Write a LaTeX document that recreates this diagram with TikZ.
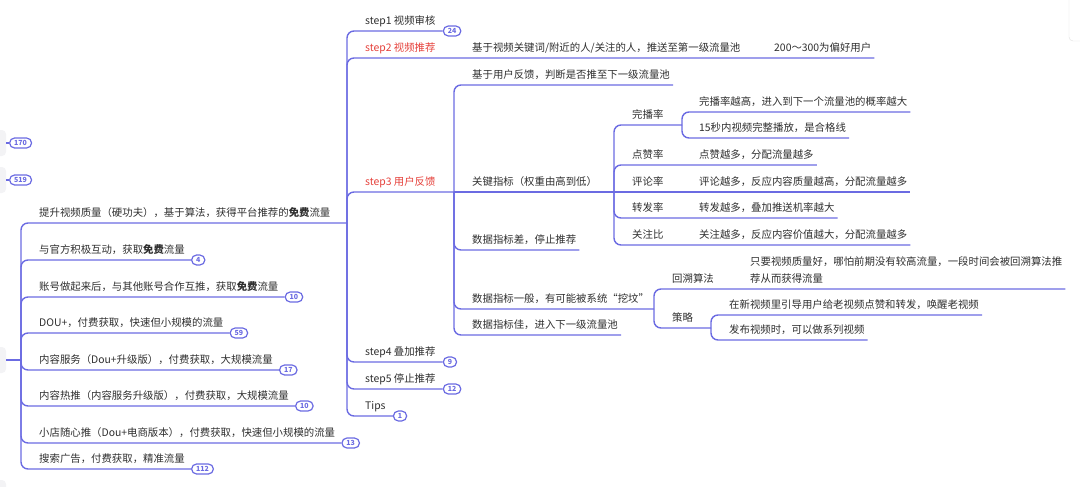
\documentclass[tikz,border=0pt]{standalone}
\usepackage{fontspec}
\setmainfont{Noto Sans CJK SC}
\usetikzlibrary{positioning,calc}
\definecolor{branch}{HTML}{6B6BE2}
\definecolor{redstep}{HTML}{E5403A}
\definecolor{ink}{HTML}{2E2E2E}
\definecolor{ghost}{HTML}{F3F3F5}
\tikzset{
  topic/.style={anchor=south west, inner xsep=0pt, inner ysep=6pt, text depth=0pt,
    text=ink, font=\fontsize{10.4pt}{13pt}\selectfont},
  hot/.style={topic, text=redstep},
  br/.style={draw=branch, line width=1.4pt, rounded corners=7pt},
  badge/.style={anchor=west, draw=branch, line width=1.2pt, fill=white, rounded corners=5pt,
    minimum height=10pt, inner xsep=4.5pt, inner ysep=0pt, text=branch,
    font=\fontsize{7pt}{7pt}\selectfont\bfseries},
  stub/.style={fill=ghost, rounded corners=4pt, minimum width=24pt, minimum height=26pt},
}

\begin{document}
\begin{tikzpicture}[x=1pt, y=-1pt]
  \useasboundingbox (0,0) rectangle (1080,487);
  \clip (0,0) rectangle (1080,487);
  % cut-off neighbours at the edges
  \node[stub] (root) at (-6,360) {};
  \foreach \n/\y/\c in {g1/143/170, g2/180/519, g3/493/{}}{
    \node[stub] (\n) at (-6,\y) {};
    \node[badge, minimum width=22pt] (\n-cnt) at (9,\y) {\c};
    \draw[br] (\n.east) -- (\n-cnt.west);
  }
  \node[draw=black!12, fill=white, rounded corners=4pt, minimum width=30pt, minimum height=60pt] (corner) at (1084,11) {};

  % left trunk
  \coordinate (jl) at (21,360);
  \draw[br] (root.east) -- (jl);
  \node[topic] (l1) at (39,223) {提升视频质量（硬功夫），基于算法，获得平台推荐的\textbf{免费}流量};
  \coordinate (jr) at (347,223);
  \draw[br] (jl) |- (l1.south west) -- (jr);
  \foreach \n/\y/\t/\c in {
    l2/260/与官方积极互动，获取\textbf{免费}流量/4,
    l3/297/账号做起来后，与其他账号合作互推，获取\textbf{免费}流量/10,
    l4/333/DOU+，付费获取，快速但小规模的流量/59,
    l5/370/内容服务（Dou+升级版），付费获取，大规模流量/17,
    l6/406/内容热推（内容服务升级版），付费获取，大规模流量/10,
    l7/443/小店随心推（Dou+电商版本），付费获取，快速但小规模的流量/13,
    l8/469/搜索广告，付费获取，精准流量/112}{
    \node[topic] (\n) at (39,\y) {\t};
    \node[badge] (\n-cnt) at ([xshift=6pt]\n.south east) {\c};
    \draw[br] (jl) |- (\n.south west) -- (\n-cnt.west);
  }

  % steps
  \node[topic] (s1) at (365,31) {step1 视频审核};
  \node[badge] (s1-cnt) at ([xshift=7pt]s1.south east) {24};
  \draw[br] (jr) |- (s1.south west) -- (s1-cnt.west);
  \node[hot] (s2) at (365,58) {step2 视频推荐};
  \node[topic] (s2a) at (472,58) {基于视频关键词/附近的人/关注的人，推送至第一级流量池};
  \node[topic] (s2b) at (774,58) {200～300为偏好用户};
  \draw[br] (jr) |- (s2.south west) -- (s2a.south west) -- (s2b.south west) -- ([xshift=3pt]s2b.south east);
  \foreach \n/\y/\t/\c in {s4/362/step4 叠加推荐/9, s5/389/step5 停止推荐/12, s6/416/Tips/1}{
    \node[topic] (\n) at (365,\y) {\t};
    \node[badge] (\n-cnt) at ([xshift=7pt]\n.south east) {\c};
    \draw[br] (jr) |- (\n.south west) -- (\n-cnt.west);
  }

  % step3 and its feedback branches
  \node[hot] (s3) at (365,192) {step3 用户反馈};
  \coordinate (j3) at (454,192);
  \draw[br] (jr) |- (s3.south west) -- (j3);
  \node[topic] (f1) at (472,85) {基于用户反馈，判断是否推至下一级流量池};
  \node[topic] (f2) at (472,192) {关键指标（权重由高到低）};
  \node[topic] (f3) at (472,250) {数据指标差，停止推荐};
  \node[topic] (f4) at (472,309) {数据指标一般，有可能被系统“挖坟”};
  \node[topic] (f5) at (472,335) {数据指标佳，进入下一级流量池};
  \foreach \n in {f1,f3,f5} \draw[br] (j3) |- (\n.south west) -- ([xshift=3pt]\n.south east);
  \coordinate (j4) at (614,192);
  \draw[br] (j3) -- (j4);
  \coordinate (j7) at (654,309);
  \draw[br] (j3) |- (f4.south west) -- (j7);

  % key metrics
  \node[topic] (m1) at (632,125) {完播率};
  \coordinate (j5) at (682,125);
  \draw[br] (j4) |- (m1.south west) -- (j5);
  \node[topic] (m1a) at (699,112) {完播率越高，进入到下一个流量池的概率越大};
  \node[topic] (m1b) at (699,138) {15秒内视频完整播放，是合格线};
  \foreach \n in {m1a,m1b} \draw[br] (j5) |- (\n.south west) -- ([xshift=3pt]\n.south east);
  \foreach \n/\y/\t/\d in {
    m2/165/点赞率/点赞越多，分配流量越多,
    m4/218/转发率/转发越多，叠加推送机率越大,
    m5/245/关注比/关注越多，反应内容价值越大，分配流量越多}{
    \node[topic] (\n) at (632,\y) {\t};
    \node[topic] (\n a) at (699,\y) {\d};
    \draw[br] (j4) |- (\n.south west) -- (\n a.south west) -- ([xshift=3pt]\n a.south east);
  }
  \node[topic] (m3) at (632,192) {评论率};
  \node[topic] (m3a) at (699,192) {评论越多，反应内容质量越高，分配流量越多};
  \draw[br] (j4) -- (m3.south west) -- (m3a.south west) -- ([xshift=3pt]m3a.south east);

  % average data
  \node[topic] (d1) at (672,289) {回溯算法};
  \node[topic, align=left, font=\fontsize{10.4pt}{17pt}\selectfont] (d1a) at (750,289)
    {只要视频质量好，哪怕前期没有较高流量，一段时间会被回溯算法推\\荐从而获得流量};
  \draw[br] (j7) |- (d1.south west) -- (d1a.south west) -- ([xshift=3pt]d1a.south east);
  \node[topic] (d2) at (672,328) {策略};
  \coordinate (j9) at (711,328);
  \draw[br] (j7) |- (d2.south west) -- (j9);
  \node[topic] (d2a) at (729,315) {在新视频里引导用户给老视频点赞和转发，唤醒老视频};
  \node[topic] (d2b) at (729,340) {发布视频时，可以做系列视频};
  \foreach \n in {d2a,d2b} \draw[br] (j9) |- (\n.south west) -- ([xshift=3pt]\n.south east);
\end{tikzpicture}
\end{document}
